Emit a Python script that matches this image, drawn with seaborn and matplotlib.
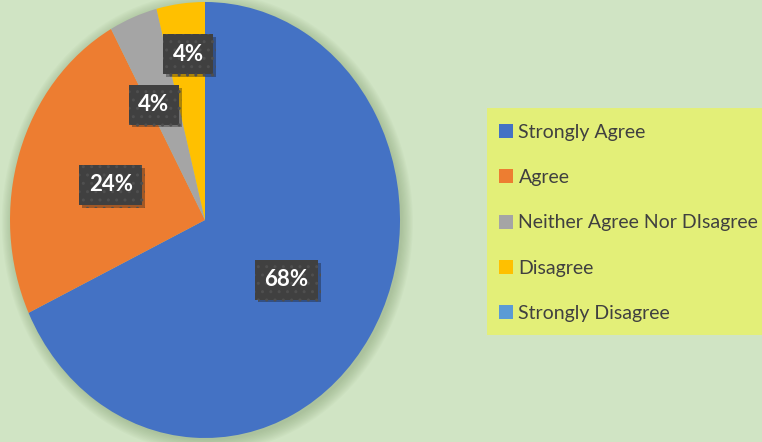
import matplotlib
matplotlib.use("Agg")
import matplotlib.pyplot as plt
import matplotlib.patheffects as pe
from matplotlib.patches import Ellipse, Rectangle
from matplotlib.lines import Line2D
import seaborn as sns
import numpy as np

# survey responses (percent)
categories = ["Strongly Agree", "Agree", "Neither Agree Nor DIsagree", "Disagree", "Strongly Disagree"]
shares = [68, 24, 4, 4, 0]
colors = ["#4472C4", "#ED7D31", "#A5A5A5", "#FFC000", "#5B9BD5"]

# where each % label sits: distance from centre and angle nudge (layout only)
label_radius = [0.50, 0.51, 0.59, 0.765, 0.5]
label_nudge = [-0.8, -0.4, 4.8, -0.7, 0]

bg = "#D0E4C4"
sns.set_theme(style="white")
plt.rcParams['font.family'] = ['Lato', 'DejaVu Sans']
plt.rcParams['hatch.linewidth'] = 1.0

fig = plt.figure(figsize=(7.62, 4.42), dpi=100, facecolor=bg)
ax = fig.add_axes([10 / 762, 4 / 442, 390 / 762, 436 / 442])
ax.set_facecolor(bg)

# soft shadow behind the pie
for k in range(10):
    ax.add_patch(Ellipse((0.012, -0.012), 2 + 0.012 * k, 2 + 0.012 * k, color="#7f9c6e",
                         alpha=0.05, lw=0, clip_on=False, zorder=0))


def fmt(p):
    return "" if p < 0.5 else "{:.0f}%".format(p)


wedges, texts, autotexts = ax.pie(shares, colors=colors, startangle=90, counterclock=False,
                                  autopct=fmt, pctdistance=0.5, radius=1,
                                  wedgeprops=dict(linewidth=0, zorder=2),
                                  textprops=dict(color="white", fontsize=16, fontweight="bold"))
ax.set_aspect("auto")
ax.set_xlim(-1, 1)
ax.set_ylim(-1, 1)
ax.axis("off")

for w, t, r, d in zip(wedges, autotexts, label_radius, label_nudge):
    if t.get_text() == "":
        continue
    a = np.deg2rad((w.theta1 + w.theta2) / 2 + d)
    t.set_position((r * np.cos(a), r * np.sin(a)))
    t.set_zorder(5)
    t.set_bbox(dict(boxstyle="square,pad=0.42", facecolor="#404040", edgecolor="#4f4f4f",
                    linewidth=0, hatch=".."))
    t.get_bbox_patch().set_path_effects([pe.SimplePatchShadow(offset=(2, -2), alpha=0.35),
                                         pe.Normal()])

# legend panel
fig.patches.append(Rectangle((487 / 762, 1 - 335 / 442), 280 / 762, 227 / 442,
                             transform=fig.transFigure, facecolor="#E3EF78",
                             edgecolor="none", zorder=0))
handles = [Line2D([], [], marker="s", linestyle="none", markersize=9.5,
                  markerfacecolor=c, markeredgewidth=0) for c in colors]
fig.legend(handles, categories, loc="upper left", bbox_to_anchor=(499 / 762, 1 - 124 / 442),
           frameon=False, fontsize=14, labelcolor="#404040", handlelength=0.7,
           handletextpad=0.3, labelspacing=1.45, borderaxespad=0, borderpad=0)

fig.savefig("out.png", dpi=100, facecolor=bg)
